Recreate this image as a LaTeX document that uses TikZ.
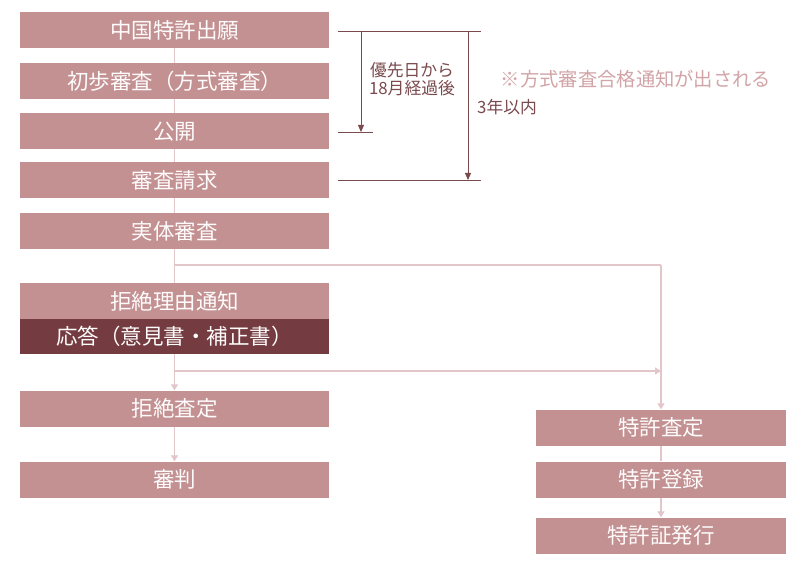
\documentclass[tikz,border=0pt]{standalone}
\usepackage{fontspec}
\usepackage{tikz}
\usetikzlibrary{arrows.meta}
\newfontfamily\jpfont{Noto Sans CJK JP}
\definecolor{boxrose}{HTML}{C49192}
\definecolor{boxdark}{HTML}{743C40}
\definecolor{flowline}{HTML}{E2C6CA}
\definecolor{timeline}{HTML}{7A4A4D}
\definecolor{notetext}{HTML}{D2A4A7}

\begin{document}
\begin{tikzpicture}[x=1pt, y=-1pt,
      every node/.append style={font=\jpfont},
      box/.style={fill=boxrose, text=white!96!boxrose, inner sep=0pt,
        minimum width=309pt, minimum height=36pt, font=\jpfont\fontsize{21.5}{23}\selectfont},
      rbox/.style={box, minimum width=250pt},
      darkbox/.style={box, fill=boxdark, minimum height=35pt},
      flow/.style={draw=flowline, line width=1.2pt},
      flowarrow/.style={flow, -{Triangle[width=7pt,length=6pt]}},
      span/.style={draw=timeline, line width=0.9pt},
      spanarrow/.style={span, -{Triangle[width=6pt,length=7pt]}},
      small/.style={text=timeline, inner sep=0pt, align=center,
        font=\jpfont\fontsize{16.8}{18.5}\selectfont}]
    \useasboundingbox (0,0) rectangle (810,569);
    \fill[white] (0,0) rectangle (810,569);
    % left column
    \coordinate (split) at (174.5,265);
    \coordinate (reply) at (174.5,371);
    \coordinate (grant) at (661,265);
    \coordinate (merge) at (661,371);
    \draw[flow] (174.5,30) -- (174.5,336);
    \draw[flow] (split) -- (grant);
    \draw[flow] (reply) -- (merge);
    \node (apply)   [box] at (174.5,30)    {中国特許出願};
    \node (formal)  [box] at (174.5,81)    {初歩審査（方式審査）};
    \node (publish) [box] at (174.5,131.5) {公開};
    \node (request) [box] at (174.5,180)   {審査請求};
    \node (exam)    [box] at (174.5,231)   {実体審査};
    \node (reason)  [box] at (174.5,301)   {拒絶理由通知};
    \node (answer)  [darkbox] at (174.5,336.5) {応答（意見書・補正書）};
    \node (reject)  [box] at (174.5,408.5) {拒絶査定};
    \node (trial)   [box] at (174.5,479.5) {審判};
    % right column
    \node (decide)  [rbox] at (661,427.5) {特許査定};
    \node (register)[rbox] at (661,479.5) {特許登録};
    \node (issue)   [rbox] at (661,535.5) {特許証発行};
    \draw[flowarrow] (answer) -- (reject);
    \draw[flowarrow] (reject) -- (trial);
    \draw[flowarrow] (reply) -- (merge);
    \draw[flowarrow] (grant) -- (decide);
    \draw[flow] (decide) -- (register);
    \draw[flowarrow] (register) -- (issue);
    % time spans
    \coordinate (t0l) at (338,31);
    \coordinate (t0r) at (481,31);
    \coordinate (a18) at (361,31);
    \coordinate (b18) at (361,132);
    \coordinate (p0) at (338,132);
    \coordinate (p1) at (373,132);
    \coordinate (a3) at (468,31);
    \coordinate (b3) at (468,180);
    \coordinate (r0) at (338,180);
    \coordinate (r1) at (481,180);
    \draw[span] (t0l) -- (t0r);
    \draw[span] (p0) -- (p1);
    \draw[span] (r0) -- (r1);
    \draw[spanarrow] (a18) -- (b18);
    \draw[spanarrow] (a3) -- (b3);
    \node (months) [small] at (412,79) {優先日から\\18月経過後};
    \node (years)  [small, anchor=west] at (477,107) {3年以内};
    \node (note) [text=notetext, inner sep=0pt,
      font=\jpfont\fontsize{19.3}{21}\selectfont] at (636,79) {※方式審査合格通知が出される};
\end{tikzpicture}
\end{document}
